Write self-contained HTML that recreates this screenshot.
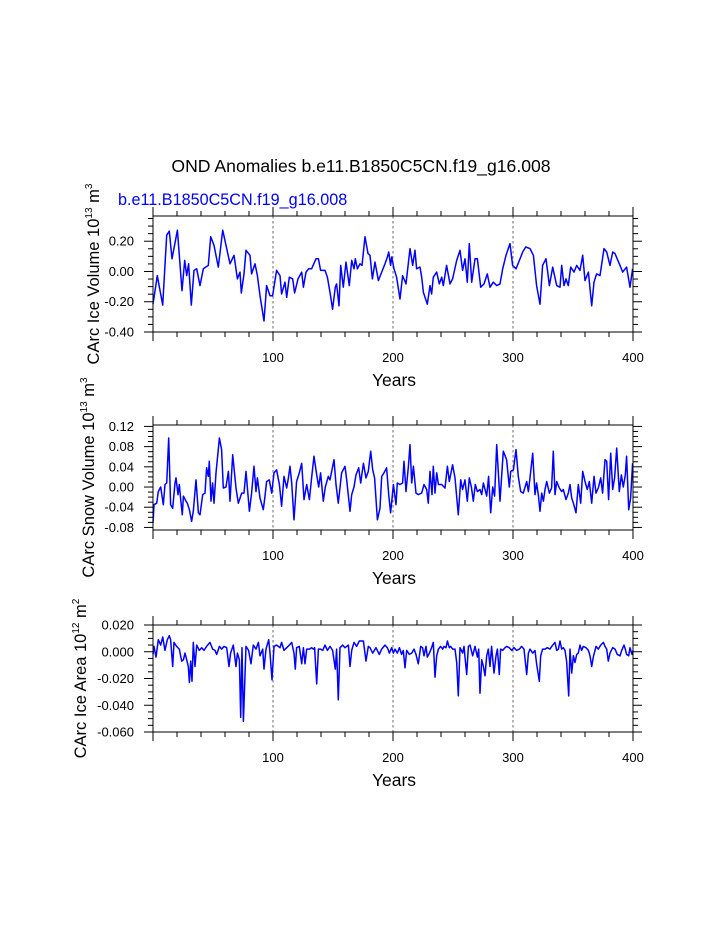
<!DOCTYPE html>
<html><head><meta charset="utf-8"><style>
html,body{margin:0;padding:0;background:#fff;}
svg{display:block;font-family:"Liberation Sans",sans-serif;}
</style></head><body>
<svg id="chart" width="723" height="935" viewBox="0 0 723 935" xmlns="http://www.w3.org/2000/svg">
<text x="361" y="172" font-size="17.6" text-anchor="middle">OND Anomalies b.e11.B1850C5CN.f19_g16.008</text>
<text x="118" y="205" font-size="16.2" fill="#0000ff">b.e11.B1850C5CN.f19_g16.008</text>
</svg>
<script>
const years1=[0,3.6,8.1,11.4,13.6,15.8,20.3,24.2,26.4,28.1,29.7,31.9,34.2,36.4,39.2,41.9,46.1,48.1,50.8,54.4,58.1,60.8,64.2,67.5,70.3,72.5,73.6,75.8,77.5,80.8,82.2,85,87,89.2,92.5,94.7,97.5,99.7,103,105.8,107.2,110,111.4,113.6,116.4,118,120.8,123.9,125.3,127.5,129.7,132.2,135.8,137.8,139.7,143.3,145.3,147.5,149.7,151.9,153,155,156.4,158.6,160.8,163.6,165.6,167.5,168.6,170.3,172.5,174.2,176.7,179.2,180.8,182.8,185,187.8,190.6,193.3,195.3,196.4,198,
198.9,200.8,203,205.8,208,210.8,214.2,216.4,218.3,219.7,222.5,223.9,225.3,228.6,230.8,232.2,233.6,236.4,238.6,240.6,241.9,244.7,247.5,249.7,253.1,255.8,258,260,261.9,263.6,265.6,268.3,270.3,273.1,275.8,278.6,280.8,283.6,286.4,289.2,291.4,294.2,297.5,299.7,302.5,305.3,308.1,310.6,314.2,317,319.7,322.5,324.7,327.5,330.3,333.1,336.4,339.2,340.6,342.5,344.2,346.1,348.1,350.8,353.1,355.8,358.1,360,362.8,365.6,367.5,369.7,372.5,375.8,378.1,380.8,383.1,385,389.2,391.4,394.7,397.5,399.7];
const iceVolume=[-0.216,-0.027,-0.222,0.24,0.267,0.084,0.273,-0.127,0.073,-0.027,0.051,-0.222,0.007,0.018,-0.093,0.018,0.04,0.229,0.173,0.029,0.273,0.173,0.051,0.107,-0.049,-0.004,-0.142,-0.016,0.14,0.107,-0.016,0.051,-0.027,-0.16,-0.327,-0.093,-0.16,-0.16,0.007,-0.027,-0.149,-0.071,-0.171,-0.038,-0.049,-0.142,-0.049,-0.004,-0.104,-0.004,0.018,0.018,0.084,0.084,0.007,0.007,-0.038,-0.138,-0.249,-0.104,-0.082,-0.227,0.04,-0.104,0.062,-0.093,0.073,0.018,0.084,0.018,0.051,0.04,0.229,0.118,0.107,-0.049,0.062,-0.06,-0.004,0.051,0.096,0.129,0.04,
0.096,0.018,-0.038,-0.182,-0.027,-0.082,0.151,0.04,0.14,0.018,0.029,-0.038,-0.138,-0.216,-0.093,-0.149,-0.038,-0.004,-0.082,-0.038,-0.093,0.04,-0.082,-0.049,0.073,0.14,0.007,0.084,-0.071,0.184,-0.071,0.084,0.084,-0.104,-0.082,-0.016,-0.104,-0.071,-0.093,-0.082,0.018,0.107,0.184,0.04,0.018,0.073,0.129,0.162,0.151,0.107,-0.093,-0.216,0.04,0.084,-0.093,0.029,-0.093,-0.104,0.04,-0.093,-0.049,-0.093,0.029,-0.004,0.04,0.007,0.107,-0.06,-0.004,-0.227,-0.071,-0.016,-0.027,0.151,0.129,0.04,0.129,0.118,0.04,-0.004,0.029,-0.104,0.018];
const years2=[0,0.8,3.1,4.4,6.4,8.6,10,11.4,13.1,14.7,16.4,18.3,19.2,20.8,21.9,23.1,24.4,25.3,27.5,28.6,30.3,32.2,33.6,35.8,37.8,39.2,41.4,43.3,44.7,46.1,46.9,48.3,49.7,50.8,52.5,55.3,57.2,58.6,60.8,62.8,64.2,66.4,69.2,71.1,73.9,75.8,77.5,80.3,82.2,84.2,85.8,87,89.2,91.9,93.3,94.7,96.9,98.9,100.8,103,105.3,107.2,109.2,111.4,112.8,114.2,115.6,117.5,119.7,121.9,123.9,125.8,128.1,130.3,132.2,134.2,136.4,138.1,139.7,141.9,143.6,146.1,147.5,150.8,152.5,154.4,157.2,160,161.4,164.2,165.6,167.5,169.2,171.4,173.1,175.3,177.5,179.4,181.4,183.1,184.7,187,189.2,190.6,192.5,194.7,196.4,198,
200.3,202.5,203.6,205.8,208,209.2,210.8,212.8,214.2,215.6,217,219.2,221.1,223.9,225.8,228.1,229.4,230.8,232.5,233.6,235,236.4,237.8,240.6,243.3,245.3,246.9,249.7,251.7,254.4,256.4,258,260,261.9,263.6,265.3,266.9,268.6,270.3,272.5,273.9,275.3,278.1,279.7,281.4,283.1,284.7,286.4,289.2,291.9,294.7,296.9,298.1,300.3,302.5,304.4,306.4,308.6,311.4,312.8,314.2,316.4,318.3,319.7,321.1,322.5,323.9,325.3,326.7,328.1,330.3,332.2,333.6,335,336.4,338.6,340.6,341.9,344.2,346.1,347.5,348.9,350.3,352.5,354.4,356.4,358.1,360,361.9,363.6,365.6,367.5,369.2,371.1,373.1,374.7,376.7,378.1,379.7,381.4,383.1,384.7,386.4,388.6,390.3,391.9,393.6,394.7,396.4,398,399.7];
const snowVolume=[-0.071,-0.035,-0.032,-0.009,0.0,-0.035,0.005,0.008,0.097,-0.035,-0.042,0.008,0.018,-0.015,0.005,-0.025,-0.055,-0.018,-0.028,-0.032,-0.045,-0.068,-0.048,0.014,-0.051,-0.055,-0.015,-0.012,0.038,0.021,0.051,-0.028,0.008,-0.032,0.028,0.097,0.074,-0.002,0.0,0.031,-0.028,0.064,-0.002,-0.032,-0.012,-0.012,0.031,-0.048,-0.012,0.041,-0.009,0.018,-0.022,-0.045,-0.018,0.011,0.014,-0.012,0.028,0.034,0.005,-0.038,0.021,-0.002,0.018,0.041,0.008,-0.065,0.011,0.028,0.047,-0.025,0.005,-0.025,0.018,0.061,0.024,0.0,0.028,-0.028,0.0,0.021,0.014,0.054,0.005,-0.032,0.028,0.041,0.014,-0.048,-0.015,0.0,0.024,0.038,0.008,0.047,0.018,0.031,0.071,0.034,0.018,-0.065,-0.042,0.021,0.028,0.038,-0.015,-0.051,
0.005,-0.035,0.008,0.005,0.008,0.051,-0.009,0.041,0.084,0.008,0.041,-0.012,-0.015,-0.012,0.005,-0.005,-0.032,0.031,-0.015,0.041,-0.012,0.028,0.005,0.005,-0.002,0.041,0.011,0.044,0.018,-0.055,0.014,-0.005,0.014,-0.028,0.018,0.0,-0.028,0.005,-0.009,-0.005,-0.015,0.008,-0.018,0.021,-0.051,0.0,-0.018,0.084,-0.028,0.071,0.054,0.0,0.031,0.034,0.074,0.021,-0.009,-0.012,0.011,-0.009,0.018,0.067,-0.015,0.008,-0.015,-0.048,-0.012,-0.028,-0.005,0.011,-0.012,-0.002,0.071,-0.015,0.011,-0.002,-0.009,-0.005,-0.025,-0.012,0.005,-0.022,-0.032,-0.051,0.005,-0.032,0.031,0.011,-0.005,0.011,-0.032,0.021,-0.012,-0.002,0.018,-0.012,0.054,0.051,-0.025,0.067,-0.005,0.018,0.077,-0.009,0.024,0.0,0.024,0.061,-0.045,-0.022,0.047];
const years3=[0,0.8,2.5,4.4,6.4,8.1,10,11.9,13.6,14.7,16.4,17.5,19.7,21.9,23.9,25.3,26.7,28.1,29.4,30.3,31.4,32.5,33.6,35,36.4,38.6,40.6,42.5,44.7,47.5,49.7,51.7,53.1,55.3,57.2,59.2,61.4,63.3,64.7,66.9,69.2,70.3,72,73.1,74.2,75.3,77.5,79.7,81.7,83.6,85.8,87.8,89.2,91.4,92.5,94.2,96.4,97.5,99.2,100.8,103,105.8,107.2,109.2,111.4,113.6,115.6,117.5,118.6,119.7,121.9,123.9,125.3,126.7,128.1,130.3,132.2,133.6,134.7,136.4,137.8,139.7,141.4,143.3,145.3,147.5,149.7,151.9,153,154.4,155.8,158.1,160,162.8,164.2,165.6,167.5,169.7,171.9,175.3,177.5,179.4,180.8,183.1,185.8,188.6,190.6,193.3,195.3,197,
198.9,200.3,201.7,203.6,205.3,207.2,208.6,210,211.4,213.6,215.6,217.5,219.2,221.1,223.1,224.7,225.8,227.5,228.6,230.3,232.2,233.6,235,236.4,237.8,239.7,241.4,242.5,244.2,245.3,246.9,248.1,249.7,251.7,253.1,254.4,255.8,258,259.2,261.4,262.8,264.2,266.4,268.3,270.3,271.4,272.5,273.9,275.3,276.7,278.1,279.4,280.8,282.2,284.2,285.8,287,288.6,289.7,291.4,293.3,294.7,296.9,298.9,300.8,303,305.3,307.2,309.2,311.4,312.8,314.2,316.4,318.3,319.7,321.9,323.1,324.7,326.7,328.6,330.8,333.1,335,336.4,337.8,339.2,340.6,341.9,343.3,344.7,346.4,347.5,348.9,350.3,351.7,353.1,354.4,355.8,357.2,358.6,360.8,362.8,364.2,365.6,366.9,369.2,371.1,373.1,375.3,376.7,378.1,379.4,380.8,383.1,385,386.9,389.2,390.6,392.5,393.6,394.7,396.4,397.5,399.2,400];
const iceArea=[-0.002,0.004,-0.004,0.009,0.005,0.011,0.001,0.009,0.012,0.009,-0.011,0.007,0.004,0.002,-0.007,-0.006,-0.001,-0.006,-0.011,-0.023,-0.007,-0.022,0.007,-0.011,0.005,0.001,0.003,0.001,0.004,0.007,0.002,0.001,-0.002,0.004,0.002,0.004,0.003,-0.011,-0.001,0.005,-0.011,-0.001,-0.006,-0.049,0.003,-0.052,0.004,0.001,-0.009,0.005,0.002,0.007,-0.003,0.002,-0.013,0.002,0.009,-0.001,-0.021,0.004,0.005,0.003,0.007,0.001,0.003,0.005,0.007,-0.001,-0.013,0.003,0.004,-0.009,0.003,-0.009,0.002,0.002,0.003,0.002,0.003,-0.024,0.002,0.002,0.001,0.005,0.001,0.004,0.001,-0.013,0.002,-0.036,0.003,0.005,0.003,0.005,-0.011,0.001,0.007,0.004,0.008,0.008,-0.007,0.004,0.003,-0.001,0.003,-0.002,0.002,0.005,0.003,-0.001,
0.003,-0.001,0.002,-0.001,0.003,-0.002,0.001,-0.012,0.001,-0.002,-0.001,0.002,-0.002,-0.009,0.004,0.003,-0.003,0.004,-0.004,-0.001,0.003,0.007,-0.019,-0.003,0.002,0.004,0.002,0.004,0.003,0.008,0.003,0.004,0.002,0.002,-0.008,-0.033,0.003,-0.001,0.004,-0.017,0.004,0.005,-0.003,0.004,-0.004,0.002,-0.031,-0.006,-0.011,-0.018,-0.003,0.002,-0.011,0.004,-0.016,-0.003,0.002,-0.017,0.002,0.001,0.003,0.004,0.003,0.001,0.003,0.001,0.002,0.004,0.002,-0.017,-0.001,0.002,-0.001,0.001,-0.009,-0.022,-0.003,0.002,0.002,0.003,0.002,0.005,0.007,0.001,0.002,0.008,0.002,0.003,0.001,-0.007,-0.033,0.002,-0.016,-0.003,-0.008,-0.002,-0.001,0.005,0.001,0.004,0.003,0.001,-0.003,-0.011,-0.004,0.004,0.002,0.005,0.007,0.004,0.002,-0.007,-0.001,0.003,0.002,-0.002,-0.003,0.001,0.005,0.002,-0.002,-0.003,0.003,-0.002,0.001];
const xTickLabels=["100","200","300","400"];
const yTicks1=[-0.4,-0.2,0,0.2]; const yLabels1=["-0.40","-0.20","0.00","0.20"];
const yTicks2=[-0.08,-0.04,0,0.04,0.08,0.12]; const yLabels2=["-0.08","-0.04","0.00","0.04","0.08","0.12"];
const yTicks3=[-0.06,-0.04,-0.02,0,0.02]; const yLabels3=["-0.060","-0.040","-0.020","0.000","0.020"];

const svg=document.getElementById('chart');
const NS="http://www.w3.org/2000/svg";
function mk(tag,attrs,parent){const e=document.createElementNS(NS,tag);for(const k in attrs)e.setAttribute(k,attrs[k]);(parent||svg).appendChild(e);return e;}
const X0=153,X1=633;
function xs(y){return X0+(X1-X0)*y/400;}
const panels=[
 {key:'ice-volume',top:216,bot:332,vTop:0.3667,vBot:-0.4,yrs:years1,vals:iceVolume,ticks:yTicks1,labels:yLabels1,minor:0.05,lab:['CArc Ice Volume 10','13',' m','3'],labX:99},
 {key:'snow-volume',top:425,bot:530,vTop:0.1228,vBot:-0.0851,yrs:years2,vals:snowVolume,ticks:yTicks2,labels:yLabels2,minor:0.01,lab:['CArc Snow Volume 10','13',' m','3'],labX:94},
 {key:'ice-area',top:625,bot:732,vTop:0.02,vBot:-0.06,yrs:years3,vals:iceArea,ticks:yTicks3,labels:yLabels3,minor:0.005,lab:['CArc Ice Area 10','12',' m','2'],labX:86}
];
panels.forEach(p=>{
 const g=mk('g',{});
 
 
 const ys=v=>p.bot-(v-p.vBot)/(p.vTop-p.vBot)*(p.bot-p.top);
 [100,200,300].forEach(t=>{
  const l=mk('line',{x1:xs(t),x2:xs(t),y1:p.top,y2:p.bot,stroke:'#444','stroke-width':0.8,'stroke-dasharray':'2.5,2.5'},g);
  
  
 });
 let d='';
 p.yrs.forEach((yr,i)=>{d+=(i?'L':'M')+xs(yr).toFixed(1)+','+ys(p.vals[i]).toFixed(1);});
 const path=mk('path',{d:d,fill:'none',stroke:'#0000ff','stroke-width':1.5,'stroke-linejoin':'round'},g);
 
 
 const fr=mk('rect',{x:X0,y:p.top,width:X1-X0,height:p.bot-p.top,fill:'none',stroke:'#000','stroke-width':1},g);
 
 
 for(let t=0;t<=400;t+=20){
  const L=(t%100===0)?9:5;const x=xs(t);
  mk('line',{x1:x,x2:x,y1:p.bot,y2:p.bot+L,stroke:'#000'},g);
  mk('line',{x1:x,x2:x,y1:p.top,y2:p.top-L,stroke:'#000'},g);
 }
 xTickLabels.forEach(s=>{
  const t=mk('text',{x:xs(+s),y:p.bot+30,'font-size':13,'text-anchor':'middle'},g);t.textContent=s;
  
  
 });
 const yt=mk('text',{x:394,y:p.bot+54,'font-size':17.5,'text-anchor':'middle'},g);yt.textContent='Years';
 
 
 const start=Math.ceil(p.vBot/p.minor-1e-6);
 for(let k=start;k*p.minor<=p.vTop+1e-9;k++){
  const v=k*p.minor;const y=ys(v);
  const major=p.ticks.some(t=>Math.abs(t-v)<1e-9);const L=major?9:5;
  mk('line',{x1:X0,x2:X0-L,y1:y,y2:y,stroke:'#000'},g);
  mk('line',{x1:X1,x2:X1+L,y1:y,y2:y,stroke:'#000'},g);
 }
 p.ticks.forEach((v,i)=>{
  const t=mk('text',{x:X0-19,y:ys(v)+4.5,'font-size':13,'text-anchor':'end'},g);t.textContent=p.labels[i];
  
  
 });
 const cy=(p.top+p.bot)/2;
 const lt=mk('text',{x:p.labX,y:cy,'font-size':16.5,'text-anchor':'middle',transform:'rotate(-90 '+p.labX+' '+cy+')'},g);
 
 
 p.lab.forEach((s,i)=>{const ts=mk('tspan',{},lt);ts.textContent=s;if(i%2===1){ts.setAttribute('font-size','10');ts.setAttribute('dy','-7');}else if(i>0){ts.setAttribute('dy','7');}});
});
</script>
</body></html>
